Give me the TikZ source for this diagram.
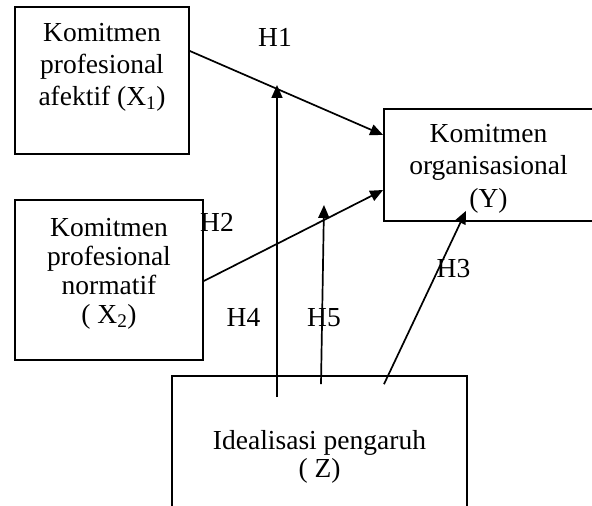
\documentclass[tikz,border=0pt]{standalone}
\usepackage{fontspec}
\setmainfont{Liberation Serif}
\usetikzlibrary{arrows.meta,positioning,calc}

\begin{document}
\begin{tikzpicture}[x=1pt, y=1pt,
    box/.style={draw, line width=1.7pt, inner sep=0pt},
    txt/.style={align=center, font=\fontsize{27.5}{31}\selectfont,
                inner sep=0pt, anchor=base},
    arr/.style={-{Triangle[length=13pt, width=11pt]}, line width=1.7pt},
    lbl/.style={font=\fontsize{27.5}{31}\selectfont, inner sep=0pt, anchor=base}
]
    \clip (0,0) rectangle (592,506);

    % Variables
    \node[box, minimum width=174pt, minimum height=147pt] (x1) at (102,425.5) {};
    \node[box, minimum width=188pt, minimum height=160pt] (x2) at (109,226) {};
    \node[box, minimum width=209pt, minimum height=112pt] (y)  at (488.5,341) {};
    \node[box, minimum width=295pt, minimum height=140pt] (z)  at (319.5,60) {};

    % Texts (base = last line)
    \node[txt, font=\fontsize{27.5}{32}\selectfont] (x1txt) at ([yshift=-99pt]x1.north) {Komitmen\\profesional\\afektif (X\textsubscript{1})};
    \node[txt, font=\fontsize{27.5}{29}\selectfont] (x2txt) at ([yshift=-124pt]x2.north) {Komitmen\\profesional\\normatif\\( X\textsubscript{2})};
    \node[txt, font=\fontsize{27.5}{32.5}\selectfont] (ytxt) at ([yshift=-99pt]y.north) {Komitmen\\organisasional\\(Y)};
    \node[txt, font=\fontsize{27.5}{28}\selectfont] (ztxt) at ([yshift=-102pt]z.north) {Idealisasi pengaruh\\( Z)};

    % Free ends
    \coordinate (h4tip) at (277,421);
    \coordinate (h5tip) at (324,301);

    % Arrows
    \draw[arr] ([yshift=29.5pt]x1.east) -- ([yshift=30pt]y.west);
    \draw[arr] ([yshift=-1pt]x2.east) -- ([yshift=-25pt]y.west);
    \draw[arr] ([xshift=-42.5pt, yshift=-22pt]z.north) -- (h4tip);
    \draw[arr] ([xshift=1.5pt, yshift=-9pt]z.north) -- (h5tip);
    \draw[arr] ([xshift=64.5pt, yshift=-9pt]z.north) -- ([xshift=-22.5pt, yshift=11pt]y.south);

    % Labels
    \node[lbl] (h1) at (275,459) {H1};
    \node[lbl] (h2) at (217,274) {H2};
    \node[lbl] (h3) at (453.5,228) {H3};
    \node[lbl] (h4) at (243.5,179) {H4};
    \node[lbl] (h5) at (324,179) {H5};
\end{tikzpicture}
\end{document}
